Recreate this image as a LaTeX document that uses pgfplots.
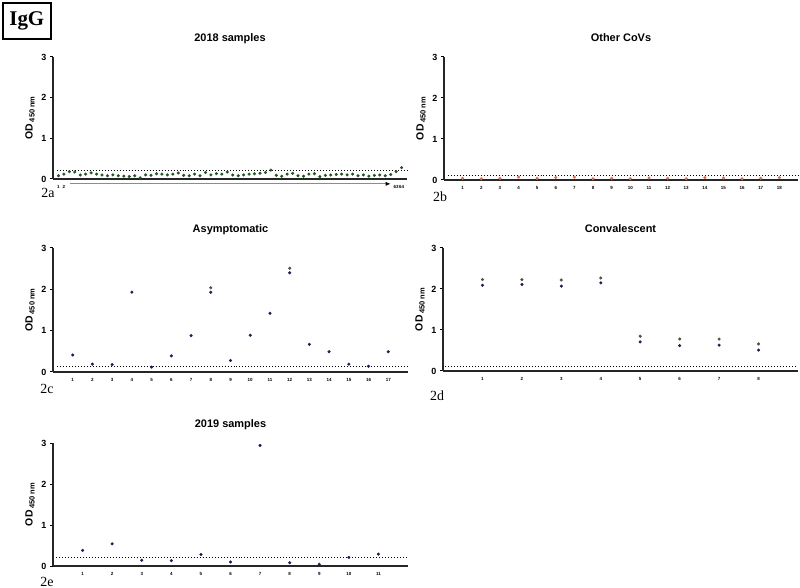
\documentclass[border=0pt]{standalone}
\usepackage{fontspec}
\setmainfont{Liberation Sans}
\newfontfamily\tnr{Liberation Serif}
\usepackage{pgfplots}
\pgfplotsset{compat=1.18}
\usetikzlibrary{arrows.meta}
\definecolor{dgreen}{RGB}{35,85,35}
\definecolor{corange}{RGB}{225,110,70}
\definecolor{navy}{RGB}{25,30,90}
\definecolor{olivegray}{RGB}{70,85,60}

\pgfplotsset{
 panel/.style={
  scale only axis, width=354bp, height=123bp,
  anchor=south west,
  axis lines=left, axis line style={-, line width=1.3bp, black!85},
  ymin=0, ymax=3, ytick={0,1,2,3},
  tick align=outside, major tick length=3bp,
  ytick style={line width=1bp, black},
  xtick style={draw=none},
  /pgf/number format/assume math mode=true,
  yticklabel style={font=\fontsize{9}{10}\selectfont\bfseries},
  xticklabel style={font=\fontsize{4.5}{5}\selectfont\bfseries},
  ylabel={\bfseries OD\,\raisebox{-0.35ex}{\fontsize{7.5}{8}\selectfont\bfseries 450 nm}},
  ylabel style={font=\fontsize{10.5}{12}\selectfont},
  title style={font=\fontsize{11}{13}\selectfont\bfseries, text height=1.6ex, text depth=0.45ex, yshift=4bp},
  clip=false,
 },
 pts/.style={only marks, mark=*, mark size=1.35bp, mark options={draw=#1, fill=#1}},
 cut/.style={black, dotted, line width=1bp},
}

\begin{document}
\begin{tikzpicture}
\useasboundingbox (0,0) rectangle (800bp,588bp);

% IgG box
\node[draw, line width=1.6bp, minimum width=48bp, minimum height=36bp, inner sep=0pt, anchor=north west]
  at (2bp,586bp) {\tnr\bfseries\fontsize{21}{22}\selectfont IgG};

% 2a
\begin{axis}[panel, at={(53bp,409bp)}, width=354bp, height=122bp,
  xmin=0, xmax=65, xtick={1,2,63,64}, xticklabels={1,2,63,64},
  title={2018 samples}]
\addplot[cut] coordinates {(0.7,0.2) (65,0.2)};
\addplot[pts=dgreen] coordinates {
(1,0.08) (2,0.12) (3,0.18) (4,0.17) (5,0.10) (6,0.12) (7,0.15) (8,0.12)
(9,0.10) (10,0.08) (11,0.10) (12,0.08) (13,0.07) (14,0.06) (15,0.08) (16,0.03)
(17,0.10) (18,0.09) (19,0.13) (20,0.12) (21,0.10) (22,0.12) (23,0.15) (24,0.09)
(25,0.08) (26,0.12) (27,0.08) (28,0.16) (29,0.10) (30,0.13) (31,0.12) (32,0.17)
(33,0.10) (34,0.08) (35,0.10) (36,0.12) (37,0.13) (38,0.14) (39,0.16) (40,0.22)
(41,0.09) (42,0.07) (43,0.12) (44,0.14) (45,0.08) (46,0.07) (47,0.12) (48,0.13)
(49,0.06) (50,0.09) (51,0.10) (52,0.11) (53,0.12) (54,0.10) (55,0.12) (56,0.08)
(57,0.10) (58,0.07) (59,0.09) (60,0.10) (61,0.08) (62,0.11) (63,0.18) (64,0.28)};
\draw[black!45, line width=0.8bp, -{Latex[black, length=5bp, width=4bp]}] (axis cs:3.2,-0.12) -- (axis cs:62,-0.12);
\end{axis}
\node[font=\tnr\fontsize{14}{16}\selectfont] at (48bp,395bp) {2a};

% 2b
\begin{axis}[panel, at={(444bp,408bp)}, width=354bp, height=123bp,
  xmin=0, xmax=19, xtick={1,...,18},
  title={Other CoVs}]
\addplot[cut] coordinates {(0.2,0.12) (19,0.12)};
\addplot[pts=corange] coordinates {
(1,0.04) (2,0.03) (3,0.04) (4,0.07) (5,0.04) (6,0.06) (7,0.07) (8,0.03) (9,0.04)
(10,0.03) (11,0.05) (12,0.04) (13,0.03) (14,0.06) (15,0.05) (16,0.03) (17,0.04) (18,0.06)};
\end{axis}
\node[font=\tnr\fontsize{14}{16}\selectfont] at (440bp,391bp) {2b};

% 2c
\begin{axis}[panel, at={(53bp,216bp)}, width=355bp, height=124bp,
  xmin=0, xmax=18, xtick={1,...,17},
  title={Asymptomatic}]
\addplot[cut] coordinates {(0.2,0.14) (18,0.14)};
\addplot[pts=navy] coordinates {
(1,0.41) (2,0.19) (3,0.18) (4,1.93) (5,0.12) (6,0.39) (7,0.88) (8,1.93) (9,0.28)
(10,0.89) (11,1.42) (12,2.40) (13,0.67) (14,0.49) (15,0.19) (16,0.14) (17,0.49)};
\addplot[pts=olivegray] coordinates {(8,2.04) (12,2.51)};
\end{axis}
\node[font=\tnr\fontsize{14}{16}\selectfont] at (47bp,199bp) {2c};

% 2d
\begin{axis}[panel, at={(443bp,217bp)}, width=355bp, height=123bp,
  xmin=0, xmax=9, xtick={1,...,8},
  title={Convalescent}]
\addplot[cut] coordinates {(0.05,0.12) (9,0.12)};
\addplot[pts=olivegray] coordinates {
(1,2.23) (2,2.23) (3,2.22) (4,2.27) (5,0.85) (6,0.78) (7,0.78) (8,0.66)};
\addplot[pts=navy] coordinates {
(1,2.09) (2,2.11) (3,2.07) (4,2.15) (5,0.71) (6,0.62) (7,0.63) (8,0.51)};
\end{axis}
\node[font=\tnr\fontsize{14}{16}\selectfont] at (437bp,192bp) {2d};

% 2e
\begin{axis}[panel, at={(53bp,22bp)}, width=355bp, height=123bp,
  xmin=0, xmax=12, xtick={1,...,11},
  title={2019 samples}]
\addplot[cut] coordinates {(0.1,0.2) (12,0.2)};
\addplot[pts=navy] coordinates {
(1,0.38) (2,0.54) (3,0.14) (4,0.13) (5,0.28) (6,0.10) (7,2.94) (8,0.08) (9,0.04) (10,0.21) (11,0.29)};
\end{axis}
\node[font=\tnr\fontsize{14}{16}\selectfont] at (47bp,6bp) {2e};
\end{tikzpicture}
\end{document}
